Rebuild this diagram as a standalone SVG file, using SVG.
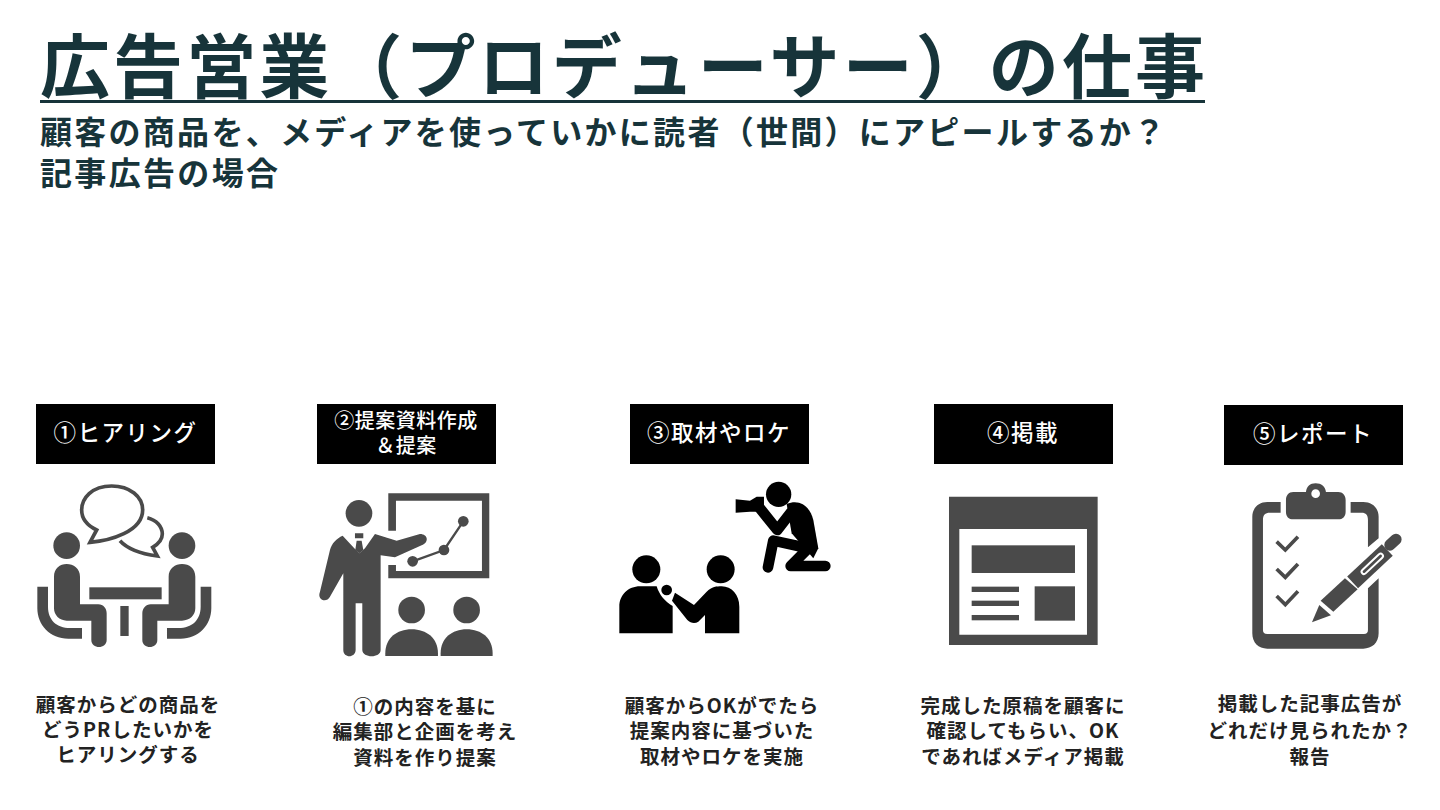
<svg xmlns="http://www.w3.org/2000/svg" width="1440" height="810" viewBox="0 0 1440 810">
<style>
text{font-family:"Noto Sans CJK JP","Noto Sans",sans-serif}
.t{fill:#17343a;font-weight:700}
.lab{fill:#fff;font-size:22.500px;font-weight:500;text-anchor:middle}
.cap{fill:#222;font-size:19.500px;font-weight:700;text-anchor:middle;letter-spacing:1px}
.d{fill:#4a4a4a}
.ds{fill:none;stroke:#4a4a4a}
.k{fill:#000}
.ks{fill:none;stroke:#000;stroke-linecap:round;stroke-linejoin:round}
</style>
<rect width="1440" height="810" fill="#fff"/>
<g id="title">
<text class="t" x="40" y="93" font-size="70" textLength="1165" lengthAdjust="spacing">広告営業（プロデューサー）の仕事</text>
<rect x="40" y="100" width="1165" height="3" fill="#17343a"/>
<text class="t" x="40" y="144" font-size="32" textLength="1125" lengthAdjust="spacing">顧客の商品を、メディアを使っていかに読者（世間）にアピールするか？</text>
<text class="t" x="40" y="185" font-size="32" textLength="238" lengthAdjust="spacing">記事広告の場合</text>
</g>
<g id="step1">
<rect x="36" y="404" width="179" height="60"/>
<text class="lab" x="125.500" y="441" letter-spacing="1.500">①ヒアリング</text>
<g transform="translate(20,470) scale(.3333)">
<path class="ds" stroke-width="11" d="M275 48C215 48 185 85 185 120C185 150 205 168 230 180L210 217C270 212 368 185 368 120C368 80 330 48 275 48Z"/>
<path class="ds" stroke-width="11" d="M382 143C410 150 427 170 427 192C427 210 415 222 398 232L412 258C370 252 325 240 300 212"/>
<circle class="d" cx="140" cy="227" r="40"/><circle class="d" cx="486" cy="227" r="40"/>
<path class="d" d="M102 320C102 295 120 282 140 282C160 282 180 295 180 320V403H235C250 403 260 415 260 430V510C260 538 214 538 214 510V452H140C118 452 102 435 102 415Z"/>
<path class="d" d="M526 320C526 295 508 282 486 282C466 282 446 295 446 320V403H392C378 403 367 415 367 430V510C367 538 412 538 412 510V452H486C510 452 526 435 526 415Z"/>
<rect class="d" x="208" y="352" width="217" height="36"/><rect class="d" x="301" y="408" width="25" height="90"/>
<path class="d" d="M52 350H84V410C84 450 110 474 150 474H186V506H145C90 506 52 465 52 415Z"/>
<path class="d" d="M574 350H542V410C542 450 516 474 476 474H441V506H482C536 506 574 465 574 415Z"/>
</g>
<text class="cap" x="128" y="712">顧客からどの商品を</text>
<text class="cap" x="128" y="737">どうPRしたいかを</text>
<text class="cap" x="128" y="762">ヒアリングする</text>
</g>
<g id="step2">
<rect x="317" y="404" width="179" height="60"/>
<text class="lab" x="406" y="428" style="font-size:20px" letter-spacing=".5">②提案資料作成</text>
<text class="lab" x="406" y="453" style="font-size:20px" letter-spacing=".5">＆提案</text>
<g transform="translate(20,470) scale(.3333)">
<path class="d" fill-rule="evenodd" d="M1105 70H1408V325H1105V285H1128V303H1386V92H1128V182H1105Z"/>
<circle class="d" cx="1017" cy="130" r="40"/>
<path class="d" d="M1005 190H1030V205H1005ZM1010 212H1025L1030 240L1018 250L1006 240Z"/>
<path class="d" d="M968 197L1003 235L1018 250L1035 235L1065 192L1130 212L1200 192C1225 192 1228 218 1205 226L1125 262L1082 256V540C1082 565 1028 565 1027 540V400H1007V540C1006 565 970 565 970 540V310L930 380C920 400 890 390 900 365L930 240C935 220 950 205 968 197Z"/>
<circle class="d" cx="1178" cy="274" r="16"/><circle class="d" cx="1272" cy="240" r="16"/><circle class="d" cx="1330" cy="154" r="16"/>
<path class="ds" stroke-width="7" d="M1178 274L1272 240L1330 154"/>
<circle class="d" cx="1175" cy="420" r="40"/><circle class="d" cx="1340" cy="420" r="40"/>
<path class="d" d="M1096 558V550C1096 505 1130 478 1175 478C1220 478 1254 505 1254 550V558Z"/>
<path class="d" d="M1262 558V550C1262 505 1296 478 1340 478C1385 478 1418 505 1418 550V558Z"/>
</g>
<text class="cap" x="425" y="714">①の内容を基に</text>
<text class="cap" x="425" y="739">編集部と企画を考え</text>
<text class="cap" x="425" y="765">資料を作り提案</text>
</g>
<g id="step3">
<rect x="630" y="404" width="179" height="60"/>
<text class="lab" x="719" y="441" letter-spacing="1.500">③取材やロケ</text>
<g transform="translate(600,470) scale(.3333)">
<circle class="k" cx="536" cy="73" r="38"/>
<path class="k" d="M407 88L450 92L470 80H492V115L490 125H465L450 125L407 128Z"/>
<path class="ks" stroke-width="32" d="M480 115L532 180L572 128"/>
<path class="k" d="M560 102C600 85 630 110 640 150L655 235L640 265L575 190Z"/>
<path class="ks" stroke-width="32" d="M504 292L520 212L625 235L572 288H676"/>
<circle class="k" cx="139" cy="298" r="42"/><circle class="k" cx="362" cy="298" r="42"/>
<path class="k" d="M58 490V410C58 375 85 349 120 349H170C178 375 195 395 218 408V490Z"/>
<circle class="k" cx="200" cy="360" r="16"/>
<path class="k" d="M225 368L282 405L320 365C335 350 350 349 365 349C395 349 418 375 418 410V490H315V435L295 455C285 462 272 460 262 450L216 392Z"/>
</g>
<text class="cap" x="722" y="713">顧客からOKがでたら</text>
<text class="cap" x="722" y="738">提案内容に基づいた</text>
<text class="cap" x="722" y="764">取材やロケを実施</text>
</g>
<g id="step4">
<rect x="934" y="404" width="179" height="60"/>
<text class="lab" x="1023" y="441" letter-spacing="1.500">④掲載</text>
<g transform="translate(930,470) scale(.3333)">
<path class="d" fill-rule="evenodd" d="M57 80H503V525H57ZM88 177V494H471V177Z"/>
<rect class="d" x="125" y="226" width="310" height="83"/>
<rect class="d" x="125" y="350" width="142" height="16"/><rect class="d" x="125" y="392" width="142" height="16"/><rect class="d" x="125" y="435" width="142" height="16"/>
<rect class="d" x="314" y="349" width="121" height="103"/>
</g>
<text class="cap" x="1023" y="713">完成した原稿を顧客に</text>
<text class="cap" x="1023" y="738">確認してもらい、OK</text>
<text class="cap" x="1023" y="764">であればメディア掲載</text>
</g>
<g id="step5">
<rect x="1224" y="405" width="179" height="60"/>
<text class="lab" x="1313" y="442" letter-spacing="1.500">⑤レポート</text>
<g transform="translate(930,470) scale(.3333)">
<path class="d" d="M1052 96V128H1020C1005 128 999 135 999 150V480C999 488 1003 492 1012 492H1302C1310 492 1314 488 1314 480V355L1346 325V490C1346 520 1325 536 1300 536H1012C985 536 967 518 967 490V140C967 115 985 96 1012 96Z"/>
<path class="d" d="M1262 96H1300C1328 96 1346 115 1346 140V205L1314 232V150C1314 135 1308 128 1295 128H1262Z"/>
<path class="d" fill-rule="evenodd" d="M1090 66H1128C1130 50 1140 40 1157 40C1174 40 1186 50 1188 66H1225C1238 66 1247 76 1247 90V125C1247 140 1238 148 1225 148H1090C1076 148 1068 140 1068 125V90C1068 76 1076 66 1090 66ZM1157 58A13 13 0 1 0 1157.100 84A13 13 0 1 0 1157 58Z"/>
<path class="ds" stroke-width="11" d="M1040 215L1066 240L1104 200M1040 297L1066 322L1104 282M1040 378L1066 404L1104 364"/>
<path d="M1268 337L1372 240" fill="none" stroke="#fff" stroke-width="62"/>
<path d="M1268 337L1372 240" fill="none" stroke="#4a4a4a" stroke-width="48"/>
<path d="M1380 225L1398 208" fill="none" stroke="#4a4a4a" stroke-width="34" stroke-linecap="round"/>
<path d="M1302 305L1352 258" fill="none" stroke="#fff" stroke-width="20" stroke-linecap="round"/>
<path d="M1302 305L1352 258" fill="none" stroke="#4a4a4a" stroke-width="8" stroke-linecap="round"/>
<path class="d" d="M1245 325L1283 358L1210 425L1172 392Z"/>
<path class="d" d="M1168 405L1203 436L1146 457Z"/>
</g>
<text class="cap" x="1310" y="711">掲載した記事広告が</text>
<text class="cap" x="1310" y="738">どれだけ見られたか？</text>
<text class="cap" x="1310" y="764">報告</text>
</g>
</svg>
